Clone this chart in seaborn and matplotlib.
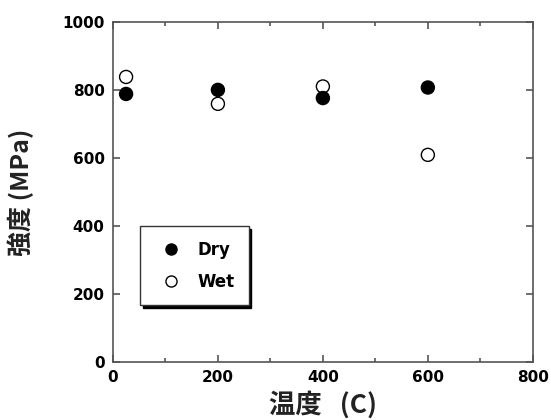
import pandas as pd
import matplotlib.pyplot as plt
import seaborn as sns
from matplotlib.ticker import MultipleLocator

# temperature (C) and strength (MPa)
temps = [25, 200, 400, 600]
dry_strength = [788, 800, 776, 807]
wet_strength = [838, 759, 810, 609]
conditions = ["Dry", "Wet"]


def main():
    sns.set_theme(style="ticks")
    plt.rcParams['font.family'] = ['DejaVu Sans', 'Noto Sans CJK JP']

    # wet rows first so the filled dry markers sit on top
    data = pd.DataFrame({
        "temp": temps * 2,
        "strength": wet_strength + dry_strength,
        "cond": [conditions[1]] * len(temps) + [conditions[0]] * len(temps),
    })

    fig = plt.figure(figsize=(5.51, 4.2), dpi=100)
    ax = fig.add_axes([0.205, 0.138, 0.762, 0.81])

    sns.scatterplot(data=data, x="temp", y="strength", hue="cond",
                    hue_order=conditions,
                    palette={"Dry": "black", "Wet": "white"},
                    edgecolor="black", linewidth=1.0, s=88, ax=ax, zorder=3)

    ax.set_xlim(0, 800)
    ax.set_ylim(0, 1000)
    ax.xaxis.set_major_locator(MultipleLocator(200))
    ax.xaxis.set_minor_locator(MultipleLocator(100))
    ax.yaxis.set_major_locator(MultipleLocator(200))
    ax.tick_params(which="both", direction="in", top=True, right=True,
                   colors="#555555", labelcolor="black", width=1.2)
    ax.tick_params(which="major", length=5, labelsize=11, pad=6)
    ax.tick_params(which="minor", length=3)
    for lbl in ax.get_xticklabels() + ax.get_yticklabels():
        lbl.set_fontweight("heavy")
    for sp in ax.spines.values():
        sp.set_color("#555555")
        sp.set_linewidth(1.2)

    ax.set_xlabel("温度   (C)", fontsize=19, fontweight="bold", color="#222222",
                  family=['Noto Sans CJK JP', 'DejaVu Sans'], labelpad=4)
    ax.set_ylabel("強度 (MPa)", fontsize=18, fontweight="bold", color="#222222",
                  family=['Noto Sans CJK JP', 'DejaVu Sans'], labelpad=20)

    leg = ax.legend(loc="lower left", bbox_to_anchor=(0.064, 0.168),
                    borderaxespad=0, frameon=True, fancybox=False,
                    shadow={"color": "black", "alpha": 1.0, "ox": 2, "oy": -2},
                    prop={"weight": "bold", "size": 12},
                    handletextpad=0.6, borderpad=0.85, labelspacing=0.85,
                    markerscale=0.85, title=None)
    leg.get_frame().set_edgecolor("#333333")
    leg.get_frame().set_linewidth(1.0)
    for t in leg.get_texts():
        t.set_color("black")

    fig.savefig("out.png", dpi=100)


if __name__ == '__main__':
    main()
